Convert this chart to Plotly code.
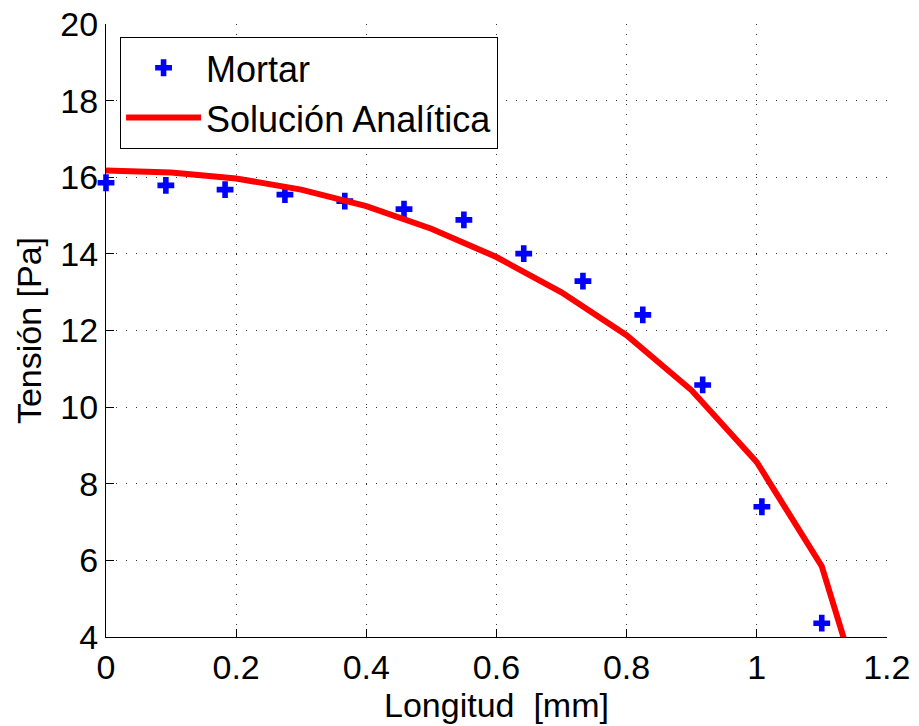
import plotly.graph_objects as go

# Mortar (numerical) data
mortar_x = [0.0, 0.092, 0.183, 0.275, 0.367, 0.458, 0.55, 0.642, 0.733, 0.825, 0.917, 1.008, 1.1]
mortar_y = [15.86, 15.79, 15.68, 15.55, 15.38, 15.17, 14.89, 14.01, 13.29, 12.41, 10.58, 7.40, 4.36]

# Analytical solution
anal_x = [0.0, 0.1, 0.2, 0.3, 0.4, 0.5, 0.6, 0.7, 0.8, 0.9, 1.0, 1.1, 1.2]
anal_y = [16.18, 16.13, 15.97, 15.68, 15.25, 14.66, 13.92, 13.0, 11.88, 10.44, 8.57, 5.85, 0.3]

xticks = [0, 0.2, 0.4, 0.6, 0.8, 1, 1.2]
xticklabels = ["0", "0.2", "0.4", "0.6", "0.8", "1", "1.2"]
yticks = [4, 6, 8, 10, 12, 14, 16, 18, 20]

FONT = "Liberation Sans, Arial, Helvetica, sans-serif"

fig = go.Figure()
fig.add_trace(go.Scatter(
    x=mortar_x, y=mortar_y, mode="markers", name="Mortar",
    marker=dict(symbol="cross", size=14, color="#0000ff", line=dict(width=0)),
    cliponaxis=False,
))
fig.add_trace(go.Scatter(
    x=anal_x, y=anal_y, mode="lines", name="Solución Analítica",
    line=dict(color="#ff0000", width=6),
))

axis_common = dict(
    showgrid=True, gridcolor="#333333", griddash="1px,9px", gridwidth=1,
    showline=True, linecolor="black", linewidth=1,
    ticks="inside", ticklen=8, tickcolor="black",
    tickfont=dict(size=34, color="black", family=FONT),
    zeroline=False, mirror=False, automargin=False,
    ticklabeloverflow="allow",
)

fig.update_layout(
    width=919, height=726,
    margin=dict(l=106, r=32, t=24, b=89),
    plot_bgcolor="white", paper_bgcolor="white",
    font=dict(family=FONT, color="black"),
    xaxis=dict(range=[0, 1.2003], tickvals=xticks, ticktext=xticklabels,
               title=dict(text="Longitud  [mm]", font=dict(size=34), standoff=2),
               **axis_common),
    yaxis=dict(range=[4, 20.004], tickvals=yticks,
               title=dict(text="Tensión [Pa]", font=dict(size=34), standoff=8),
               **axis_common),
    legend=dict(x=0.018, y=0.979, xanchor="left", yanchor="top",
                bgcolor="white", bordercolor="black", borderwidth=1,
                font=dict(size=36, color="black", family=FONT),
                itemwidth=75, tracegroupgap=0),
    showlegend=True,
)

fig.write_html("out.html",
               config={"displayModeBar": False},
               post_script="document.body.style.margin='0';document.body.style.overflow='hidden';")
